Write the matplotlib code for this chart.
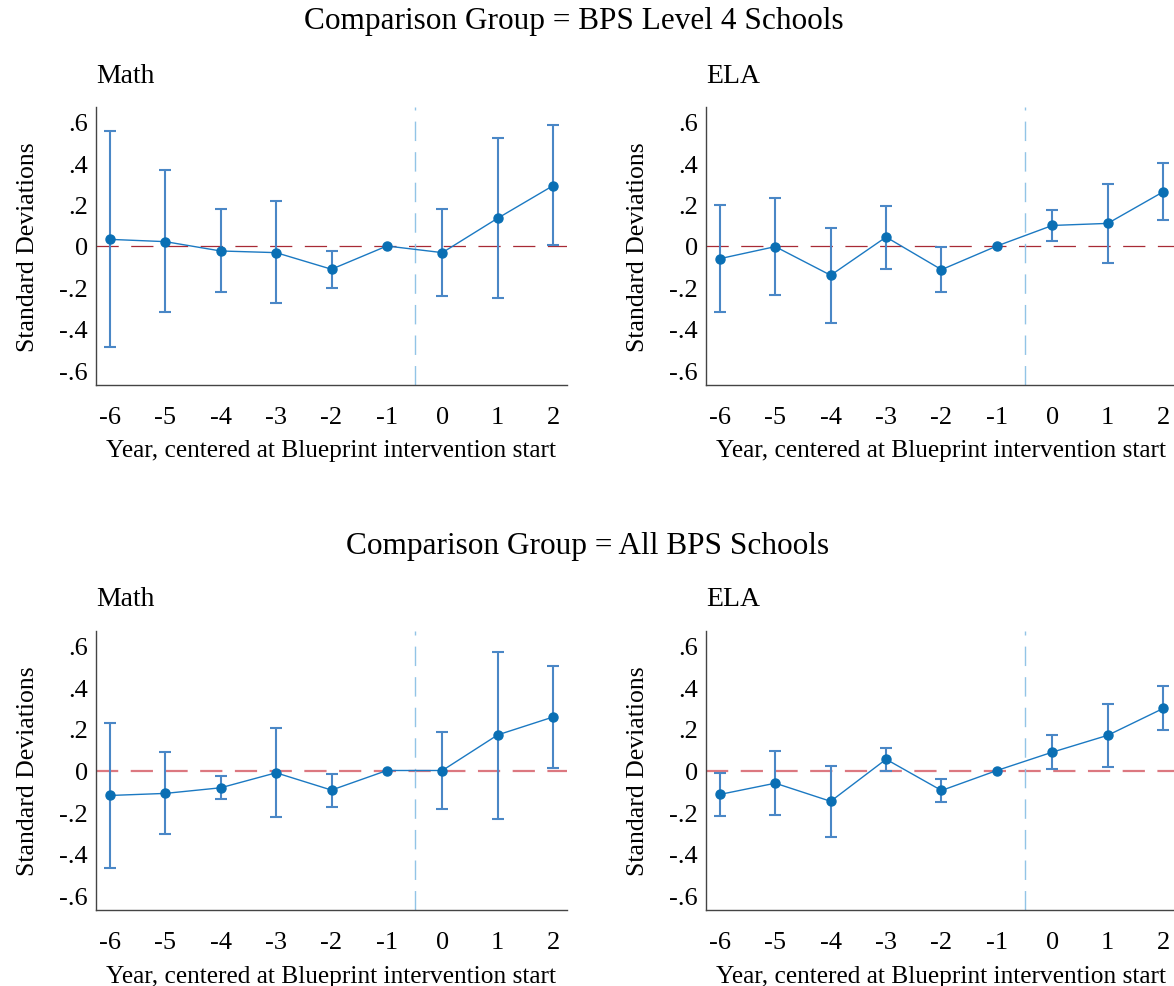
import matplotlib
matplotlib.use("Agg")
import matplotlib.pyplot as plt
import numpy as np

plt.rcParams['font.family'] = ['Liberation Serif', 'DejaVu Serif']

years = [-6, -5, -4, -3, -2, -1, 0, 1, 2]
ytick_vals = [-0.6, -0.4, -0.2, 0, 0.2, 0.4, 0.6]
ytick_labels = ['-.6', '-.4', '-.2', '0', '.2', '.4', '.6']

# Comparison group = BPS Level 4 schools
l4_math_est = [0.032, 0.021, -0.024, -0.032, -0.112, 0.0, -0.032, 0.134, 0.291]
l4_math_hi = [0.554, 0.365, 0.178, 0.216, -0.022, 0.0, 0.176, 0.522, 0.582]
l4_math_lo = [-0.486, -0.320, -0.222, -0.277, -0.202, 0.0, -0.240, -0.251, 0.003]

l4_ela_est = [-0.061, -0.003, -0.141, 0.043, -0.114, 0.0, 0.099, 0.109, 0.261]
l4_ela_hi = [0.198, 0.230, 0.088, 0.195, -0.006, 0.0, 0.174, 0.301, 0.402]
l4_ela_lo = [-0.320, -0.234, -0.370, -0.109, -0.221, 0.0, 0.022, -0.082, 0.125]

# Comparison group = all BPS schools
all_math_est = [-0.120, -0.110, -0.083, -0.011, -0.094, 0.0, 0.0, 0.171, 0.257]
all_math_hi = [0.230, 0.088, -0.027, 0.203, -0.016, 0.0, 0.185, 0.571, 0.504]
all_math_lo = [-0.470, -0.305, -0.136, -0.222, -0.174, 0.0, -0.187, -0.231, 0.011]

all_ela_est = [-0.115, -0.061, -0.148, 0.054, -0.096, 0.0, 0.088, 0.169, 0.298]
all_ela_hi = [-0.014, 0.092, 0.022, 0.108, -0.041, 0.0, 0.169, 0.317, 0.405]
all_ela_lo = [-0.218, -0.212, -0.317, -0.002, -0.150, 0.0, 0.006, 0.019, 0.195]

W, H = 1174, 987
fig = plt.figure(figsize=(W / 100, H / 100), dpi=100)


def px_axes(left, top, right, bottom):
    return fig.add_axes([left / W, 1 - bottom / H, (right - left) / W, (bottom - top) / H])


def panel(ax, title, est, lo, hi, zero_color, zero_lw):
    x = np.array(years)
    est = np.array(est)
    lo = np.array(lo)
    hi = np.array(hi)
    keep = x != -1
    ax.axhline(0, color=zero_color, lw=zero_lw, dashes=(16 / zero_lw, 9 / zero_lw), zorder=1)
    ax.axvline(-0.5, color='#92c4e6', lw=1.0, dashes=(14, 8), zorder=1)
    ax.errorbar(x[keep], est[keep], yerr=[est[keep] - lo[keep], hi[keep] - est[keep]],
                fmt='none', ecolor='#4a87c6', elinewidth=1.5, capsize=4, capthick=1.5, zorder=2)
    ax.plot(x, est, '-o', color='#1b79c2', lw=1.0, ms=6.5, mfc='#0a6fb4', mec='#0a6fb4', zorder=3)
    ax.set_xlim(-6.25, 2.25)
    ax.set_ylim(-0.67, 0.67)
    ax.set_xticks(years)
    ax.set_xticklabels([str(v) for v in years])
    ax.set_yticks(ytick_vals)
    ax.set_yticklabels(ytick_labels)
    ax.tick_params(length=0, labelsize=19)
    ax.tick_params(axis='x', pad=15)
    ax.tick_params(axis='y', pad=6)
    for s in ['top', 'right']:
        ax.spines[s].set_visible(False)
    for s in ['left', 'bottom']:
        ax.spines[s].set_color('#444444')
        ax.spines[s].set_linewidth(1.0)
    ax.set_ylabel('Standard Deviations', fontsize=18.5)
    ax.yaxis.set_label_coords(-0.121, 0.5)
    ax.set_xlabel('Year, centered at Blueprint intervention start', fontsize=18.3)
    ax.xaxis.set_label_coords(0.5, -0.196)
    ax.text(0.0, 1.115, title, transform=ax.transAxes, fontsize=20, ha='left', va='center')


ax1 = px_axes(96, 108, 567, 386)
ax2 = px_axes(706, 108, 1177, 386)
ax3 = px_axes(96, 632, 567, 911)
ax4 = px_axes(706, 632, 1177, 911)

panel(ax1, 'Math', l4_math_est, l4_math_lo, l4_math_hi, '#a82a35', 0.9)
panel(ax2, 'ELA', l4_ela_est, l4_ela_lo, l4_ela_hi, '#a82a35', 0.9)
panel(ax3, 'Math', all_math_est, all_math_lo, all_math_hi, '#dc7880', 1.6)
panel(ax4, 'ELA', all_ela_est, all_ela_lo, all_ela_hi, '#dc7880', 1.6)

fig.text(574 / W, 1 - 22 / H, 'Comparison Group = BPS Level 4 Schools', fontsize=22.5,
         ha='center', va='center')
fig.text(588 / W, 1 - 547 / H, 'Comparison Group = All BPS Schools', fontsize=22.5,
         ha='center', va='center')

fig.savefig('out.png', dpi=100)
